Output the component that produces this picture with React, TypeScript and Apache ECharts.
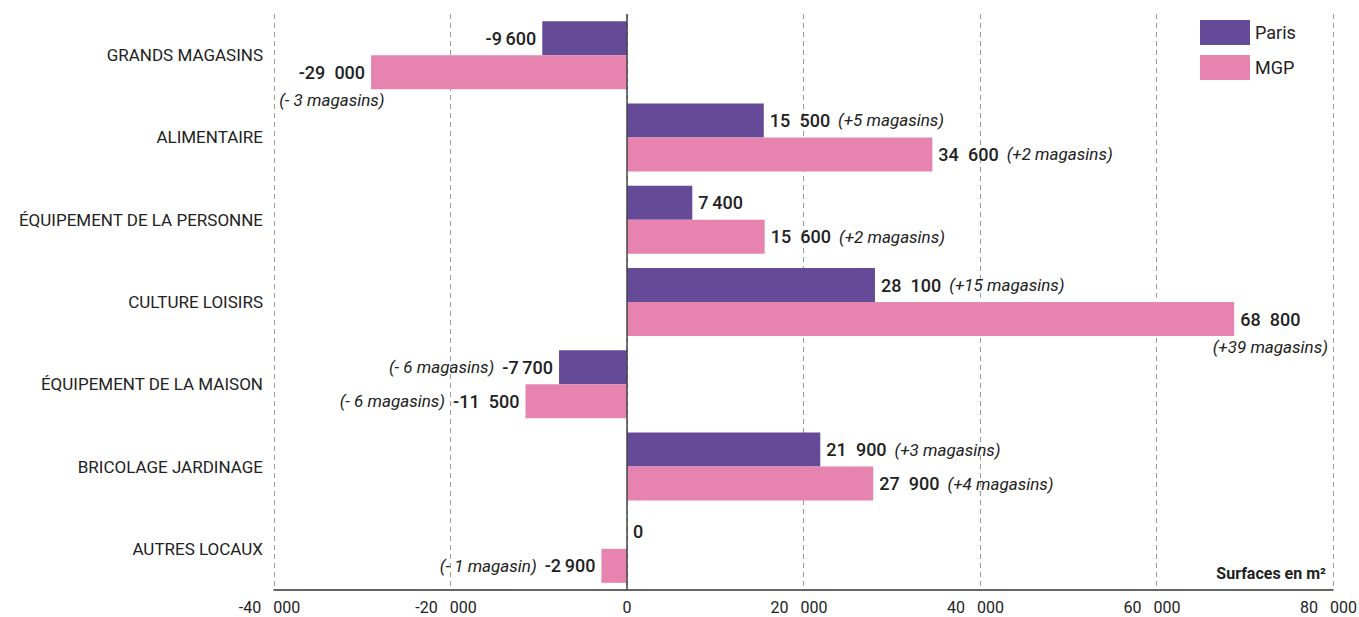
import React, { useEffect, useRef } from "react";
import * as echarts from "echarts";

const categories = [
  "GRANDS MAGASINS",
  "ALIMENTAIRE",
  "ÉQUIPEMENT DE LA PERSONNE",
  "CULTURE LOISIRS",
  "ÉQUIPEMENT DE LA MAISON",
  "BRICOLAGE JARDINAGE",
  "AUTRES LOCAUX",
];
const seriesNames = ["Paris", "MGP"];
const parisValues = [-9600, 15500, 7400, 28100, -7700, 21900, 0];
const mgpValues = [-29000, 34600, 15600, 68800, -11500, 27900, -2900];
const parisNotes = ["", "(+5 magasins)", "", "(+15 magasins)", "(- 6 magasins)", "(+3 magasins)", ""];
const mgpNotes = [
  "(- 3 magasins)",
  "(+2 magasins)",
  "(+2 magasins)",
  "(+39 magasins)",
  "(- 6 magasins)",
  "(+4 magasins)",
  "(- 1 magasin)",
];
const parisNoteBelow = [false, false, false, false, false, false, false];
const mgpNoteBelow = [true, false, false, true, false, false, false];
const xMin = -40000;
const xMax = 80000;
const xStep = 20000;
const unitLabel = "Surfaces en m²";

const FONT = "Roboto, 'Noto Sans', sans-serif";
const COLORS = ["#654A97", "#E683AF"];
const TEXT = "#222222";
const NUM_SIZE = 18;
const NUM_WEIGHT = 500;
const NOTE_SIZE = 17;
const LINE_H = 28;

function fmtValue(v: number): string {
  const abs = Math.abs(v);
  let s: string;
  if (abs >= 1000) {
    const sep = abs >= 10000 ? "\u2002" : "\u2009";
    s = Math.floor(abs / 1000) + sep + String(abs % 1000).padStart(3, "0");
  } else s = String(abs);
  return (v < 0 ? "-" : "") + s;
}

let measureCtx: CanvasRenderingContext2D | null = null;
function measure(text: string, font: string): number {
  if (!measureCtx) measureCtx = document.createElement("canvas").getContext("2d");
  if (!measureCtx) return text.length * 8;
  measureCtx.font = font;
  return measureCtx.measureText(text).width;
}

const rich = {
  num: { fontFamily: FONT, fontSize: NUM_SIZE, fontWeight: NUM_WEIGHT, color: TEXT, lineHeight: LINE_H },
  noteR: { fontFamily: FONT, fontSize: NOTE_SIZE, fontStyle: "italic", color: TEXT, lineHeight: LINE_H, padding: [0, 0, 0, 8] },
  noteL: { fontFamily: FONT, fontSize: NOTE_SIZE, fontStyle: "italic", color: TEXT, lineHeight: LINE_H, padding: [0, 8, 0, 0] },
  numC: { fontFamily: FONT, fontSize: NUM_SIZE, fontWeight: NUM_WEIGHT, color: TEXT, lineHeight: LINE_H, align: "center" },
  noteC: { fontFamily: FONT, fontSize: NOTE_SIZE, fontStyle: "italic", color: TEXT, lineHeight: LINE_H, align: "center" },
};

function buildData(values: number[], notes: string[], below: boolean[]) {
  return values.map((v, i) => {
    const num = fmtValue(v);
    const note = notes[i];
    const neg = v < 0;
    let formatter: string;
    let offset = [0, 0];
    if (!note) {
      formatter = `{num|${num}}`;
    } else if (below[i]) {
      formatter = `{numC|${num}}\n{noteC|${note}}`;
      const dw =
        (measure(note, `italic ${NOTE_SIZE}px Roboto`) -
          measure(num, `${NUM_WEIGHT} ${NUM_SIZE}px Roboto`)) /
        2;
      offset = [neg ? dw : -dw, LINE_H / 2];
    } else if (neg) {
      formatter = `{noteL|${note}}{num|${num}}`;
    } else {
      formatter = `{num|${num}}{noteR|${note}}`;
    }
    return {
      value: v,
      label: {
        show: true,
        position: neg ? "left" : "right",
        distance: 6,
        formatter,
        offset,
        rich,
      },
    };
  });
}

function tickLabel(v: number): string {
  if (v === 0) return "{z|0}";
  const abs = Math.abs(v);
  const head = (v < 0 ? "-" : "") + Math.floor(abs / 1000);
  return "{t|" + head + "\u2002 " + String(abs % 1000).padStart(3, "0") + "}";
}

export default function App() {
  const ref = useRef<HTMLDivElement>(null);
  useEffect(() => {
    document.body.style.margin = "0";
    if (!ref.current) return;
    const chart = echarts.init(ref.current, undefined, { renderer: "svg" });
    chart.setOption({
      animation: false,
      backgroundColor: "#ffffff",
      textStyle: { fontFamily: FONT },
      grid: { left: 274, right: 26, top: 14, bottom: 27, containLabel: false, outerBoundsMode: "none" },
      legend: {
        data: seriesNames,
        orient: "vertical",
        left: 1200,
        top: 20,
        padding: 0,
        itemWidth: 50,
        itemHeight: 25,
        itemGap: 10,
        icon: "rect",
        textStyle: { fontFamily: FONT, fontSize: 18, color: TEXT },
      },
      xAxis: {
        type: "value",
        min: xMin,
        max: xMax,
        interval: xStep,
        axisLine: { show: true, onZero: false, lineStyle: { color: "#333333", width: 1.5 } },
        axisTick: { show: false },
        splitLine: { show: true, lineStyle: { color: "#9a9a9a", type: [5, 4], width: 1 } },
        axisLabel: {
          formatter: tickLabel,
          fontFamily: FONT,
          fontSize: 16,
          color: TEXT,
          margin: 9,
          hideOverlap: false,
          rich: {
            t: { fontFamily: FONT, fontSize: 16, color: TEXT, padding: [0, 9, 0, 0] },
            z: { fontFamily: FONT, fontSize: 16, color: TEXT },
          },
        },
      },
      yAxis: {
        type: "category",
        data: categories,
        inverse: true,
        axisLine: { show: false, onZero: false },
        axisTick: { show: false },
        splitLine: { show: false },
        axisLabel: { fontFamily: FONT, fontSize: 17, color: TEXT, margin: 11 },
      },
      series: [
        {
          name: seriesNames[0],
          type: "bar",
          barWidth: 34,
          barGap: "0%",
          itemStyle: { color: COLORS[0] },
          data: buildData(parisValues, parisNotes, parisNoteBelow),
          markLine: {
            silent: true,
            symbol: "none",
            label: { show: false },
            lineStyle: { color: "#444444", type: "solid", width: 1.5 },
            data: [{ xAxis: 0 }],
          },
        },
        {
          name: seriesNames[1],
          type: "bar",
          barWidth: 34,
          barGap: "0%",
          itemStyle: { color: COLORS[1] },
          data: buildData(mgpValues, mgpNotes, mgpNoteBelow),
        },
      ],
      graphic: [
        {
          type: "text",
          right: 33,
          top: 565,
          style: {
            text: unitLabel,
            fontFamily: FONT,
            fontSize: 16,
            fontWeight: "bold",
            fill: TEXT,
          },
        },
      ],
    });
    return () => chart.dispose();
  }, []);
  return <div ref={ref} style={{ width: 1359, height: 617 }} />;
}
